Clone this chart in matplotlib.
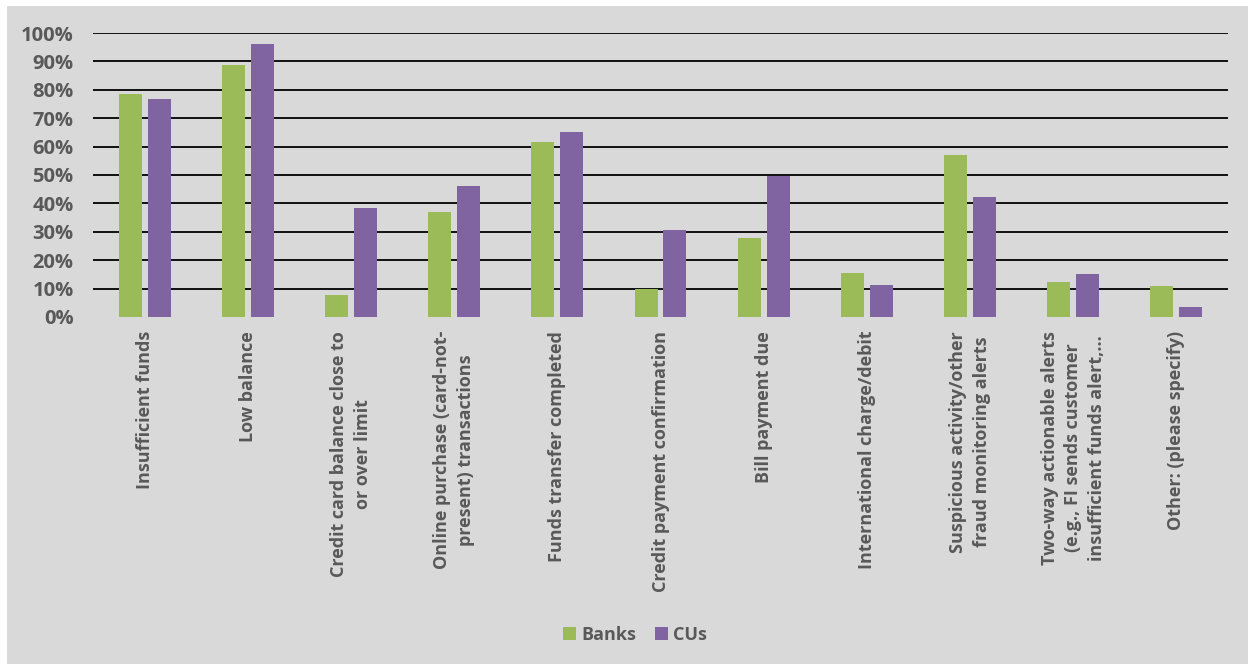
import numpy as np
import matplotlib
matplotlib.use('Agg')
import matplotlib.pyplot as plt
from matplotlib.patches import Rectangle
from matplotlib.ticker import PercentFormatter

# categorias de alertas y porcentaje de instituciones que las ofrecen
categories = [
    'Insufficient funds',
    'Low balance',
    'Credit card balance close to\nor over limit',
    'Online purchase (card-not-\npresent) transactions',
    'Funds transfer completed',
    'Credit payment confirmation',
    'Bill payment due',
    'International charge/debit',
    'Suspicious activity/other\nfraud monitoring alerts',
    'Two-way actionable alerts\n(e.g., FI sends customer\ninsufficient funds alert,...',
    'Other: (please specify)',
]
banks = [78.6, 88.7, 7.8, 37.0, 61.7, 9.9, 27.9, 15.4, 57.1, 12.4, 11.0]
cus = [76.9, 96.1, 38.4, 46.1, 65.2, 30.6, 49.7, 11.4, 42.2, 15.2, 3.6]

GREEN = '#9BBB59'
PURPLE = '#8064A2'
TEXT = '#595959'
BG = '#D9D9D9'

plt.rcParams['font.family'] = ['Open Sans', 'DejaVu Sans']
plt.rcParams['font.weight'] = 'bold'

fig = plt.figure(figsize=(12.48, 6.64), dpi=100, facecolor='white')
# fondo gris del area del grafico
fig.patches.append(Rectangle((7 / 1248, 0), 1 - 7 / 1248, 658 / 664,
                             transform=fig.transFigure, facecolor=BG,
                             edgecolor='none', zorder=-10))

ax = fig.add_axes([0.0745, 0.5226, 0.9095, 0.4277])
ax.set_facecolor('none')

x = np.arange(len(categories))
w = 0.223
ax.bar(x - 0.14, banks, w, color=GREEN, label='Banks', zorder=3)
ax.bar(x + 0.14, cus, w, color=PURPLE, label='CUs', zorder=3)

ax.set_xlim(-0.5, len(categories) - 0.5)
ax.set_ylim(0, 100)
ax.set_yticks(np.arange(0, 101, 10))
ax.yaxis.set_major_formatter(PercentFormatter(decimals=0))

# lineas de cuadricula negras, sin la de 0%
for v in range(10, 101, 10):
    ax.axhline(v, color='black', lw=1.3, zorder=1)

for s in ax.spines.values():
    s.set_visible(False)
ax.tick_params(axis='both', length=0, colors=TEXT)
ax.tick_params(axis='y', pad=14, labelsize=14.5)
ax.set_xticks(x)
ax.set_xticklabels(categories, rotation=90, ha='center', va='top',
                   multialignment='center', fontsize=13, linespacing=1.4)
ax.tick_params(axis='x', pad=10)
for t in ax.get_xticklabels() + ax.get_yticklabels():
    t.set_fontweight('bold')
    t.set_color(TEXT)

leg = fig.legend(loc='center', bbox_to_anchor=(635 / 1248, 1 - 635 / 664),
                 ncol=2, frameon=False, fontsize=13, handlelength=0.75,
                 handleheight=0.75, handletextpad=0.3, columnspacing=1.0)
for t in leg.get_texts():
    t.set_color(TEXT)
    t.set_fontweight('bold')

plt.savefig('out.png', dpi=100, facecolor=fig.get_facecolor())
plt.close()
